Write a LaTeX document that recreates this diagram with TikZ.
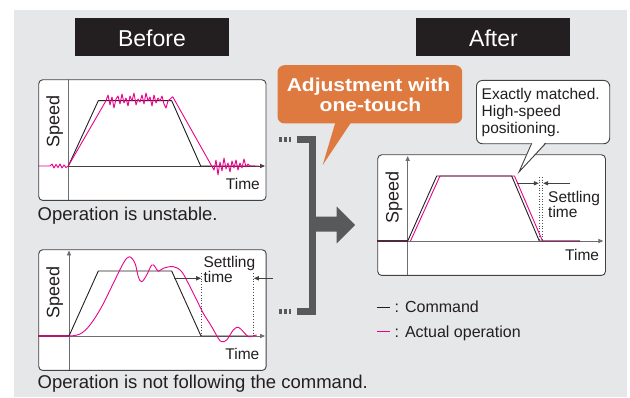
\documentclass[tikz,border=0pt]{standalone}
\usepackage{fontspec}
\setmainfont{Liberation Sans}
\newfontfamily\widebold{Liberation Sans Bold}[FakeStretch=1.13]
\usetikzlibrary{arrows.meta}
\definecolor{bg}{HTML}{E6E7E8}
\definecolor{ink}{HTML}{231F20}
\definecolor{mag}{HTML}{EC008C}
\definecolor{orng}{HTML}{DE7A3F}
\definecolor{brk}{HTML}{58595B}
\definecolor{axisgray}{HTML}{6D6E71}
\definecolor{darkmag}{HTML}{B0196E}
\definecolor{darkpur}{HTML}{4E2A3C}
\begin{document}
\begin{tikzpicture}[x=1pt,y=-1pt,
  chartbox/.style={draw=ink!85, line width=0.9pt, fill=white, rounded corners=4pt, inner sep=0pt, anchor=north west},
  axisline/.style={draw=axisgray, line width=0.9pt},
  tipstyle/.style={-{Triangle[length=5pt,width=4.2pt]}},
  cmdline/.style={draw=ink, line width=0.9pt, line join=round},
  actline/.style={draw=mag, line width=0.9pt, line join=round},
  lbl/.style={inner sep=0pt, text=ink, font=\fontsize{15.5}{16}\selectfont},
  settlelbl/.style={inner sep=0pt, text=ink, align=left, anchor=base west, font=\fontsize{15.5}{12.8}\selectfont},
  speedlabel/.style={inner sep=0pt, text=ink, font=\fontsize{18}{18}\selectfont, rotate=90, anchor=base},
  captext/.style={inner sep=0pt, text=ink, anchor=base west, font=\fontsize{18.5}{20}\selectfont},
  titlebox/.style={fill=ink, minimum width=154pt, minimum height=38pt, inner sep=0pt, anchor=north west},
  titletext/.style={inner sep=0pt, text=white, anchor=base, font=\fontsize{23}{24}\selectfont},
  dotline/.style={draw=ink!80, line width=0.7pt, dotted},
  settle/.style={draw=ink!85, line width=0.8pt, -{Triangle[length=5pt,width=4.2pt]}},
  legtext/.style={inner sep=0pt, text=ink, anchor=base west, font=\fontsize{16}{17}\selectfont}
]
\useasboundingbox (0,0) rectangle (630,398);
\fill[bg] (14,10) rectangle (627,397);

% titles
\node[titlebox] (before) at (75,18) {};
\node[titletext] (beforet) at (152,46.7) {Before};
\node[titlebox] (after) at (416,18) {};
\node[titletext] (aftert) at (493.5,46.7) {After};

% ---------- chart 1 ----------
\node[chartbox, minimum width=227.2pt, minimum height=120.7pt] (c1) at (38.3,79.3) {};
\draw[axisline] (68.3,79.3) -- (68.3,200);
\draw[axisline, draw=ink!85, tipstyle] (68.3,166) -- (265,166);
\draw[cmdline] (68.3,166) -- (98.3,100.7) -- (171.7,100.7) -- (200.7,166) -- (255,166);
\draw[actline] (38.3,166) -- (50,166) -- (52,164) -- (54,168) -- (56,164.5) -- (58,167.5) -- (60,164) -- (62,168) -- (64,165) -- (66,167.5) -- (68.3,166)
  -- (106,100.7) -- (108,95) -- (110,105) -- (112,97) -- (114,108) -- (116,99) -- (118,96) -- (120,104) -- (122,94) -- (124,103)
  -- (126,98) -- (128,106) -- (130,96) -- (132,101) -- (134,93) -- (136,105) -- (138,99) -- (140,102) -- (142,95) -- (144,104)
  -- (146,93) -- (148,101) -- (150,97) -- (152,106) -- (154,95) -- (156,103) -- (158,98) -- (160,101) -- (162,96) -- (164,104)
  -- (166,108) -- (168,101) -- (172.7,96.7)
  -- (211.7,166) -- (214,170) -- (216,160) -- (218,175) -- (220,162) -- (222,171) -- (224,158) -- (226,169) -- (228,163)
  -- (230,172) -- (232,161) -- (234,168) -- (236,160) -- (238,170) -- (240,163) -- (242,168) -- (244,159) -- (246,167)
  -- (248,164) -- (250,166) -- (259,166);
\node[speedlabel] (sp1) at (59.5,121.2) {Speed};
\node[lbl, anchor=base east] (t1) at (260,190) {Time};
\node[captext] (cap1) at (37.5,220.7) {Operation is unstable.};

% ---------- chart 2 ----------
\node[chartbox, minimum width=227.4pt, minimum height=120.7pt] (c2) at (38.3,249.3) {};
\draw[axisline, tipstyle] (69,370) -- (69,250.5);
\draw[axisline, tipstyle] (69,336) -- (265,336);
\draw[draw=darkmag, line width=1.4pt] (38.3,336) -- (69,336);
\draw[cmdline] (69,336) -- (98.3,271) -- (171.7,271) -- (201,336) -- (252,336);
\draw[actline] plot[smooth, tension=0.6] coordinates {
  (69,336) (80,334) (90,325) (101.7,306.7) (113.3,283.3) (123.3,263.3) (129.3,256.7) (135,263.3)
  (138.3,276.7) (141.7,281.7) (146.7,275) (151.7,265) (155,266.7) (158.3,271.3) (163.3,268.3)
  (173.3,266.7) (181.7,271.7) (190,286.7) (196.7,300) (203.3,313.3) (211.7,326.7) (218.3,338.3)
  (221.7,341.7) (226.7,340) (233.3,330) (238.3,327.3) (243.3,331.7) (248.3,336.7) (252.7,336) (256.7,335)};
\draw[dotline] (201.7,273.3) -- (201.7,336);
\draw[dotline] (253.3,273.3) -- (253.3,336);
\coordinate (s2l) at (174,278.3);
\coordinate (s2r) at (273.3,278.3);
\draw[settle] (s2l) -- (201.2,278.3);
\draw[settle] (s2r) -- (253.8,278.3);
\node[settlelbl, font=\fontsize{15.5}{13.2}\selectfont] (st2) at (203.3,282.7) {Settling\\time};
\node[speedlabel] (sp2) at (59.5,292.5) {Speed};
\node[lbl, anchor=base east] (t2) at (259.5,359.3) {Time};
\node[captext] (cap2) at (37.5,388.7) {Operation is not following the command.};

% ---------- callout + bracket ----------
\node[fill=orng, rounded corners=7pt, minimum width=184.7pt, minimum height=58.3pt, inner sep=0pt, anchor=north west] (adj) at (277.3,65) {};
\fill[orng] (336.7,118) -- (322.7,165) -- (354,118) -- cycle;
\node[inner sep=0pt, text=white, anchor=base, font=\widebold\fontsize{18.6}{20}\selectfont] (adj1) at (368.5,91.7) {Adjustment with};
\node[inner sep=0pt, text=white, anchor=base, font=\widebold\fontsize{18.6}{20}\selectfont] (adj2) at (370.5,111.7) {one-touch};

\fill[brk] (296.7,136) rectangle (316,142.7);
\fill[brk] (309.3,136) rectangle (316,315);
\fill[brk] (296.7,308) rectangle (316,315);
\foreach \xx in {279.3,284,288.7} {
  \fill[brk] (\xx,136.8) rectangle ++(2.7,5.3);
  \fill[brk] (\xx,308.8) rectangle ++(2.7,5.3);
}
\fill[brk] (316,216.7) -- (336.7,216.7) -- (336.7,206.7) -- (355,225) -- (336.7,243.3) -- (336.7,231.7) -- (316,231.7) -- cycle;

% ---------- chart 3 ----------
\node[chartbox, minimum width=227.7pt, minimum height=120.7pt] (c3) at (377.3,154.3) {};
\draw[axisline, tipstyle] (407.7,275) -- (407.7,156);
\draw[axisline, tipstyle] (407.7,241) -- (603.3,241);
\draw[draw=darkpur, line width=1.3pt] (377.3,241) -- (407.7,241);
\draw[actline] (410.5,241) -- (440,176) -- (514.5,176) -- (542.5,241) -- (580,241);
\draw[cmdline] (407.7,241) -- (436.7,176) -- (511.7,176) -- (539.3,241) -- (580,241);
\draw[dotline] (539.3,177) -- (539.3,241);
\draw[dotline] (542.7,177) -- (542.7,241);
\coordinate (s3l) at (516.7,183.3);
\coordinate (s3r) at (570,183.3);
\draw[settle] (s3l) -- (538.8,183.3);
\draw[settle] (s3r) -- (543.2,183.3);
\node[settlelbl, font=\fontsize{15.5}{12.5}\selectfont] (st3) at (548,217.5) {Settling\\time};
\node[speedlabel] (sp3) at (398.5,197.8) {Speed};
\node[lbl, anchor=base east] (t3) at (599.3,260.7) {Time};

% speech bubble
\node[draw=ink!85, line width=0.9pt, fill=white, rounded corners=6pt, minimum width=133.3pt, minimum height=63.3pt, inner sep=0pt, anchor=north west] (bub) at (476,80) {};
\fill[white] (531.7,141.5) -- (519,172) -- (545.7,141.5) -- cycle;
\draw[draw=ink!85, line width=0.9pt, line join=miter] (531.7,143.3) -- (519,172) -- (545.7,143.3);
\node[lbl, anchor=base west] (b1) at (481.5,99.3) {Exactly matched.};
\node[lbl, anchor=base west] (b2) at (481.5,116.7) {High-speed};
\node[lbl, anchor=base west] (b3) at (481.5,133.3) {positioning.};

% legend
\coordinate (l1a) at (377.3,307.3);
\coordinate (l1b) at (390,307.3);
\coordinate (l2a) at (377.3,331.7);
\coordinate (l2b) at (390,331.7);
\draw[draw=ink, line width=1.1pt] (l1a) -- (l1b);
\draw[draw=mag, line width=1.3pt] (l2a) -- (l2b);
\node[legtext] (lg1) at (394.5,312.7) {: Command};
\node[legtext] (lg2) at (394.5,337.3) {: Actual operation};
\end{tikzpicture}
\end{document}
